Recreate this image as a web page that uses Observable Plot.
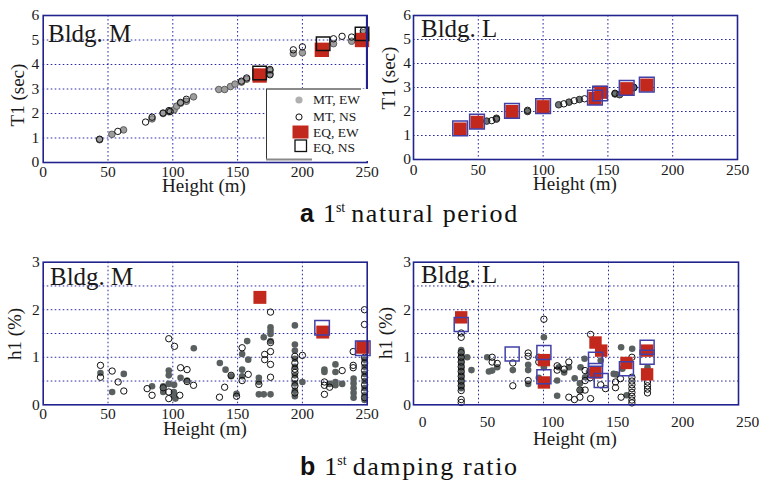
<!DOCTYPE html>
<html>
<head>
<meta charset="utf-8">
<script src="https://cdn.jsdelivr.net/npm/d3@7"></script>
<script src="https://cdn.jsdelivr.net/npm/@observablehq/plot@0.6"></script>
<style>
  html, body { margin: 0; padding: 0; background: #fff; }
  #fig { position: relative; width: 759px; height: 480px; overflow: hidden; font-family: 'Liberation Serif', serif; }
  #fig svg { position: absolute; overflow: visible; }
</style>
</head>
<body>
<div id="fig"></div>
<script>
// ---------- axis ticks ----------
const heightTicks = [0, 50, 100, 150, 200, 250];
const heightGrid = [50, 100, 150, 200];
const periodTicks = [0, 1, 2, 3, 4, 5, 6];
const periodGrid = [1, 2, 3, 4, 5];
const dampingTicks = [0, 1, 2, 3];
const dampingGrid = [0.5, 1, 1.5, 2, 2.5];

// ---------- (a) 1st natural period, Bldg. M : [height m, T1 sec] ----------
const periodM_MT_EW = [[43.5,0.93],[53,1.15],[62,1.33],[84,1.78],[92.5,2.0],[97,2.07],[101,2.15],[103,2.3],[106,2.42],[110.5,2.5],[116,2.68],[135.5,2.98],[140,2.98],[144.5,3.1],[148,3.2],[153,3.28],[157,3.4],[175,3.62],[175,3.75],[193,4.45],[200,4.48],[224,4.85],[238,4.95],[247,5.3]];
const periodM_MT_NS = [[43.5,0.95],[57.6,1.27],[79,1.65],[84,1.85],[92.5,2.02],[97,2.12],[98,2.08],[106,2.45],[110.5,2.58],[153,3.32],[157,3.45],[175,3.58],[175,3.8],[193,4.6],[200,4.72],[224,5.05],[230.6,5.15],[238,5.12],[247,5.38]];
const periodM_EQ_EW = [[167,3.55],[215,4.6],[246,5.0]];
const periodM_EQ_NS = [[167,3.65],[216,4.85],[246,5.25]];

// ---------- (a) 1st natural period, Bldg. L ----------
const periodL_MT_EW = [[56.5,1.6],[64,1.72],[88,2.0],[112,2.28],[120,2.39],[128,2.5],[155.5,2.73],[159,2.7],[170,2.99]];
const periodL_MT_NS = [[60.4,1.62],[64,1.68],[88,2.05],[116,2.32],[124,2.45],[132,2.53],[155.5,2.76],[170,3.01]];
const periodL_EQ_EW = [[36,1.27],[49,1.55],[76,2.0],[100,2.2],[140,2.55],[144.5,2.8],[164.5,2.95],[180,3.1]];
const periodL_EQ_NS = [[36,1.3],[49,1.58],[76,2.03],[100,2.22],[140,2.58],[144,2.75],[164.5,2.98],[180,3.12]];

// ---------- (b) 1st damping ratio, Bldg. M : [height m, h1 %] ----------
const dampingM_MT_EW = [[44.2,0.67],[62.2,0.65],[53.2,0.27],[116.2,1.19],[96.9,0.72],[96.9,0.62],[106,0.57],[111,0.51],[96.9,0.44],[101,0.42],[84,0.39],[92.6,0.39],[92.6,0.27],[100.8,0.27],[100.8,0.18],[102,0.13],
  [175.4,1.63],[175.4,1.56],[175.4,1.49],[175.4,1.34],[170.2,1.42],[157.4,1.34],[153.5,1.07],[158.2,0.95],[136.3,0.88],[140.7,0.74],[145,0.6],[153.5,0.74],[153.5,0.6],[149.2,0.23],[166.4,0.57],[166.4,0.48],[166.4,0.22],[170.2,0.22],[175.4,0.22],
  [194.2,1.67],[194.2,1.27],[194.2,1.14],[194.2,0.97],[194.2,0.8],[194.2,0.62],[194.2,0.45],[194.2,0.3],[194.2,0.18],[200,0.48],[217,0.74],[217,0.69],[225.5,0.85],[225.5,0.69],[225.5,0.48],[225.5,0.41],[221,0.44],[230.7,0.44],
  [239.5,0.55],[239.5,0.45],[239.5,0.35],[239.5,0.25],[239.5,0.15],[248,0.95],[248,0.8],[248,0.65],[248,0.5],[248,0.35],[248,0.2],[248,0.1]];
const dampingM_MT_NS = [[44.2,0.83],[44.2,0.58],[53.2,0.71],[57.8,0.48],[62.2,0.29],[96.9,1.39],[101.3,1.23],[106,0.78],[111,0.74],[111,0.49],[116,0.41],[80.2,0.34],[84,0.2],[92.6,0.36],[96.9,0.27],[96.9,0.13],[105.4,0.2],
  [175.4,1.95],[175.4,1.31],[175.4,1.12],[175.4,0.85],[175.4,0.58],[170.9,1.06],[170.9,0.95],[153.5,1.2],[145,0.62],[153.5,0.51],[158.2,0.64],[140,0.37],[136,0.16],[149.2,0.18],[166.4,0.43],
  [200,1.04],[194.2,1.02],[194.2,0.88],[194.2,0.75],[194.2,0.68],[194.2,0.55],[194.2,0.4],[194.2,0.25],[217,0.48],[217,0.41],[217,0.22],[221,0.37],[230.7,0.72],
  [239.2,1.12],[239.2,0.83],[239.2,0.78],[247.9,2.0],[247.9,1.69],[248,1.0],[248,0.88],[248,0.72],[248,0.58],[248,0.42],[248,0.28],[248,0.15]];
const dampingM_EQ_EW = [[167.2,2.26],[215.7,1.53],[246.6,1.21]];
const dampingM_EQ_NS = [[215.2,1.62],[246.6,1.19]];

// ---------- (b) 1st damping ratio, Bldg. L ----------
const dampingL_MT_EW = [[36.7,1.15],[36.7,1.05],[36.7,0.95],[36.7,0.85],[36.7,0.75],[36.7,0.65],[36.7,0.55],[36.7,0.45],[36.7,0.35],
  [41.3,1.0],[44.6,0.73],[56.7,1.0],[64.4,0.79],[60.5,0.72],[58,0.7],[76.4,0.73],[88.2,0.84],[88.2,0.73],[88.2,0.44],[100.3,1.42],[100.3,0.79],[96.4,0.57],[110.5,0.51],[110.5,0.19],
  [115.9,0.68],[119.5,0.79],[111.8,0.79],[124,0.56],[128,0.45],[128.5,0.79],[131.6,0.97],[132,0.58],[128.5,0.3],[135,0.69],[141,0.65],[144,0.93],[154,0.65],[159.7,1.21],[168.2,1.18],[156,0.64],[160.7,0.76],[164,0.2],[180,0.79]];
const dampingL_MT_NS = [[36.7,1.51],[36.7,1.42],[36.7,1.1],[36.7,1.0],[36.7,0.9],[36.7,0.8],[36.7,0.7],[36.7,0.6],[36.7,0.5],[36.7,0.4],[36.7,0.3],[36.7,0.11],[36.7,0.05],
  [60.5,1.0],[60.5,0.9],[64.4,0.87],[76.4,0.88],[76.4,0.4],[88.2,1.09],[88.2,1.02],[88.2,0.51],[100.3,1.8],[96.4,1.0],[96.4,0.9],[110.5,0.82],[110.5,0.73],
  [115.9,0.75],[119.5,0.9],[119.5,0.16],[123.8,0.11],[128,0.16],[136.2,0.13],[136.2,1.48],[132,0.72],[132,0.51],[128,0.31],[132,0.31],[136,0.57],[147.7,0.34],[144,0.42],
  [168,1.0],[159.2,0.55],[155.4,0.48],[155.4,0.36],[159.7,0.16],[168,0.58],[168,0.5],[168,0.42],[168,0.34],[168,0.26],[168,0.18],[168,0.1],[168,0.04],[180,0.48],[180,0.4],[180,0.33],[180,0.25]];
const dampingL_EQ_EW = [[36.7,1.84],[100.3,0.94],[100.3,0.47],[140,1.31],[144.4,1.14],[140,0.68],[163.8,0.88],[179.7,1.14],[179.7,0.64]];
const dampingL_EQ_NS = [[36.7,1.69],[75.9,1.07],[100.3,1.1],[100.3,0.59],[140,0.96],[140,0.72],[144.4,0.51],[163.8,0.76],[179.7,1.21],[179.7,1.0]];

// ---------- styling ----------
const RED = "#c3281d";
const FRAME = "#23238f";
const GRID = "#2a2aa2";
const SERIF = "'Liberation Serif', 'Times New Roman', serif";
const SANS = "'Liberation Sans', Arial, sans-serif";

const fig = d3.select("#fig");

function panel(cfg) {
  const xy = {x: d => d[0], y: d => d[1]};
  const svg = Plot.plot({
    width: cfg.width,
    height: cfg.height,
    marginLeft: cfg.ml, marginRight: cfg.mr, marginTop: cfg.mt, marginBottom: cfg.mb,
    style: {fontFamily: SERIF, fontSize: "16px", color: "#1a1a1a", background: "transparent", overflow: "visible"},
    x: {domain: [0, 250]},
    y: {domain: cfg.yDomain},
    marks: [
      Plot.gridX(heightGrid, {stroke: GRID, strokeOpacity: 1, strokeWidth: 1, strokeDasharray: "1.6,2.4"}),
      Plot.gridY(cfg.yGrid, {stroke: GRID, strokeOpacity: 1, strokeWidth: 1, strokeDasharray: "1.6,2.4"}),
      Plot.axisX(heightTicks, {tickSize: 0, tickPadding: cfg.xPad, dx: cfg.xDx, label: null, fontSize: 15.5, fontFamily: SERIF}),
      Plot.axisY(cfg.yTicks, {tickSize: 0, tickPadding: cfg.yPad, label: null, fontSize: 15.5, fontFamily: SERIF}),
      Plot.dot(cfg.mtEW, {...xy, r: 3.3, fill: cfg.ewFill, stroke: cfg.ewStroke, strokeWidth: 0.9}),
      Plot.dot(cfg.mtNS, {...xy, r: 3.2, fill: "none", stroke: "#111", strokeWidth: 1}),
      Plot.dot(cfg.eqEW, {...xy, symbol: "square", r: cfg.redR, fill: RED}),
      Plot.dot(cfg.eqNS, {...xy, symbol: "square", r: cfg.nsR, fill: "none", stroke: cfg.nsStroke, strokeWidth: 1.5}),
      Plot.frame({stroke: FRAME, strokeWidth: 1.6})
    ]
  });
  d3.select(svg).style("left", cfg.left + "px").style("top", cfg.top + "px");
  fig.node().appendChild(svg);
}

// (a) Bldg. M
panel({left: 0, top: 0, width: 380, height: 200, ml: 42.7, mr: 13.3, mt: 15, mb: 38,
  xPad: 3.5, xDx: 0, yPad: 4, yDomain: [0, 6], yTicks: periodTicks, yGrid: periodGrid,
  mtEW: periodM_MT_EW, mtNS: periodM_MT_NS, eqEW: periodM_EQ_EW, eqNS: periodM_EQ_NS,
  ewFill: "#9d9d9d", ewStroke: "#555", redR: 8.1, nsR: 7.6, nsStroke: "#111"});
// (a) Bldg. L
panel({left: 380, top: 0, width: 379, height: 200, ml: 33, mr: 22, mt: 15, mb: 41,
  xPad: 4, xDx: 0, yPad: 2.5, yDomain: [0, 6], yTicks: periodTicks, yGrid: periodGrid,
  mtEW: periodL_MT_EW, mtNS: periodL_MT_NS, eqEW: periodL_EQ_EW, eqNS: periodL_EQ_NS,
  ewFill: "#6f7373", ewStroke: "#222", redR: 7.4, nsR: 8.3, nsStroke: "#4040a8"});
// (b) Bldg. M
panel({left: 0, top: 240, width: 380, height: 240, ml: 42.7, mr: 13.3, mt: 21.7, mb: 75.7,
  xPad: 3.5, xDx: 0, yPad: 3.5, yDomain: [0, 3], yTicks: dampingTicks, yGrid: dampingGrid,
  mtEW: dampingM_MT_EW, mtNS: dampingM_MT_NS, eqEW: dampingM_EQ_EW, eqNS: dampingM_EQ_NS,
  ewFill: "#5a6060", ewStroke: "none", redR: 7.3, nsR: 8.2, nsStroke: "#4040a8"});
// (b) Bldg. L
panel({left: 380, top: 240, width: 379, height: 240, ml: 33, mr: 21, mt: 21.7, mb: 75.7,
  xPad: 11.5, xDx: 9, yPad: 2.5, yDomain: [0, 3], yTicks: dampingTicks, yGrid: dampingGrid,
  mtEW: dampingL_MT_EW, mtNS: dampingL_MT_NS, eqEW: dampingL_EQ_EW, eqNS: dampingL_EQ_NS,
  ewFill: "#5a6060", ewStroke: "none", redR: 7.0, nsR: 7.9, nsStroke: "#4040a8"});

// ---------- titles, axis names, legend and captions ----------
const over = fig.append("svg")
  .attr("width", 759).attr("height", 480)
  .style("left", "0px").style("top", "0px")
  .style("font-family", SERIF).attr("fill", "#1a1a1a");

const names = [
  {text: "Bldg. M", x: 48, y: 42},
  {text: "Bldg. L", x: 421, y: 37},
  {text: "Bldg. M", x: 50, y: 285},
  {text: "Bldg. L", x: 421, y: 283}
];
over.selectAll("text.name").data(names).join("text")
  .attr("class", "name").attr("x", d => d.x).attr("y", d => d.y)
  .style("font-family", SERIF).attr("font-size", 25).text(d => d.text);

const xTitles = [
  {text: "Height (m)", x: 204, y: 192},
  {text: "Height (m)", x: 575, y: 190},
  {text: "Height (m)", x: 205, y: 435},
  {text: "Height (m)", x: 575, y: 445}
];
over.selectAll("text.xt").data(xTitles).join("text")
  .attr("class", "xt").attr("x", d => d.x).attr("y", d => d.y)
  .style("font-family", SERIF)
  .attr("text-anchor", "middle").attr("font-size", 19).text(d => d.text);

const yTitles = [
  {text: "T1 (sec)", x: 17, y: 95},
  {text: "T1 (sec)", x: 388, y: 78},
  {text: "h1 (%)", x: 14, y: 334},
  {text: "h1 (%)", x: 385, y: 333}
];
over.selectAll("text.yt").data(yTitles).join("text")
  .attr("class", "yt")
  .attr("transform", d => `translate(${d.x},${d.y}) rotate(-90)`)
  .attr("dy", "0.35em")
  .style("font-family", SERIF)
  .attr("text-anchor", "middle").attr("font-size", 19).text(d => d.text);

// legend box inside the Bldg. M period panel
const lg = over.append("g");
lg.append("rect").attr("x", 266.5).attr("y", 89).attr("width", 101.5).attr("height", 72).attr("fill", "#fff");
lg.append("line").attr("x1", 266).attr("x2", 361).attr("y1", 89).attr("y2", 89).attr("stroke", "#8a8a8a").attr("stroke-width", 2);
lg.append("line").attr("x1", 266.5).attr("x2", 266.5).attr("y1", 89).attr("y2", 160).attr("stroke", "#333").attr("stroke-width", 1);
lg.append("line").attr("x1", 266).attr("x2", 312).attr("y1", 159.5).attr("y2", 159.5).attr("stroke", "#8a8a8a").attr("stroke-width", 2);
lg.append("line").attr("x1", 366.7).attr("x2", 366.7).attr("y1", 15).attr("y2", 89).attr("stroke", FRAME).attr("stroke-width", 1.6);
lg.append("circle").attr("cx", 299).attr("cy", 100).attr("r", 3.6).attr("fill", "#b0b0b0");
lg.append("circle").attr("cx", 299).attr("cy", 117).attr("r", 3.1).attr("fill", "none").attr("stroke", "#111");
lg.append("rect").attr("x", 292.5).attr("y", 125.5).attr("width", 16).attr("height", 13).attr("fill", RED);
lg.append("rect").attr("x", 295).attr("y", 140).attr("width", 11.5).attr("height", 11.5).attr("fill", "none").attr("stroke", "#111").attr("stroke-width", 1.3);
const legendItems = [
  {text: "MT, EW", y: 104},
  {text: "MT, NS", y: 121},
  {text: "EQ, EW", y: 137},
  {text: "EQ, NS", y: 152}
];
lg.selectAll("text").data(legendItems).join("text")
  .attr("x", 313).attr("y", d => d.y)
  .style("font-family", SERIF).attr("font-size", 13.5).text(d => d.text);

// figure captions
function caption(letter, rest, y) {
  const t = over.append("text").attr("x", 300).attr("y", y).attr("fill", "#111").style("font-family", SERIF);
  t.append("tspan").style("font-family", SANS).attr("font-weight", "bold").attr("font-size", 25).text(letter);
  t.append("tspan").attr("dx", 9).attr("font-size", 26).text("1");
  t.append("tspan").attr("dy", -10).attr("font-size", 14).text("st");
  t.append("tspan").attr("dy", 10).attr("dx", 6).attr("font-size", 26).attr("letter-spacing", "1.6px").text(rest);
}
caption("a", "natural period", 222);
caption("b", "damping ratio", 475);
</script>
</body>
</html>
